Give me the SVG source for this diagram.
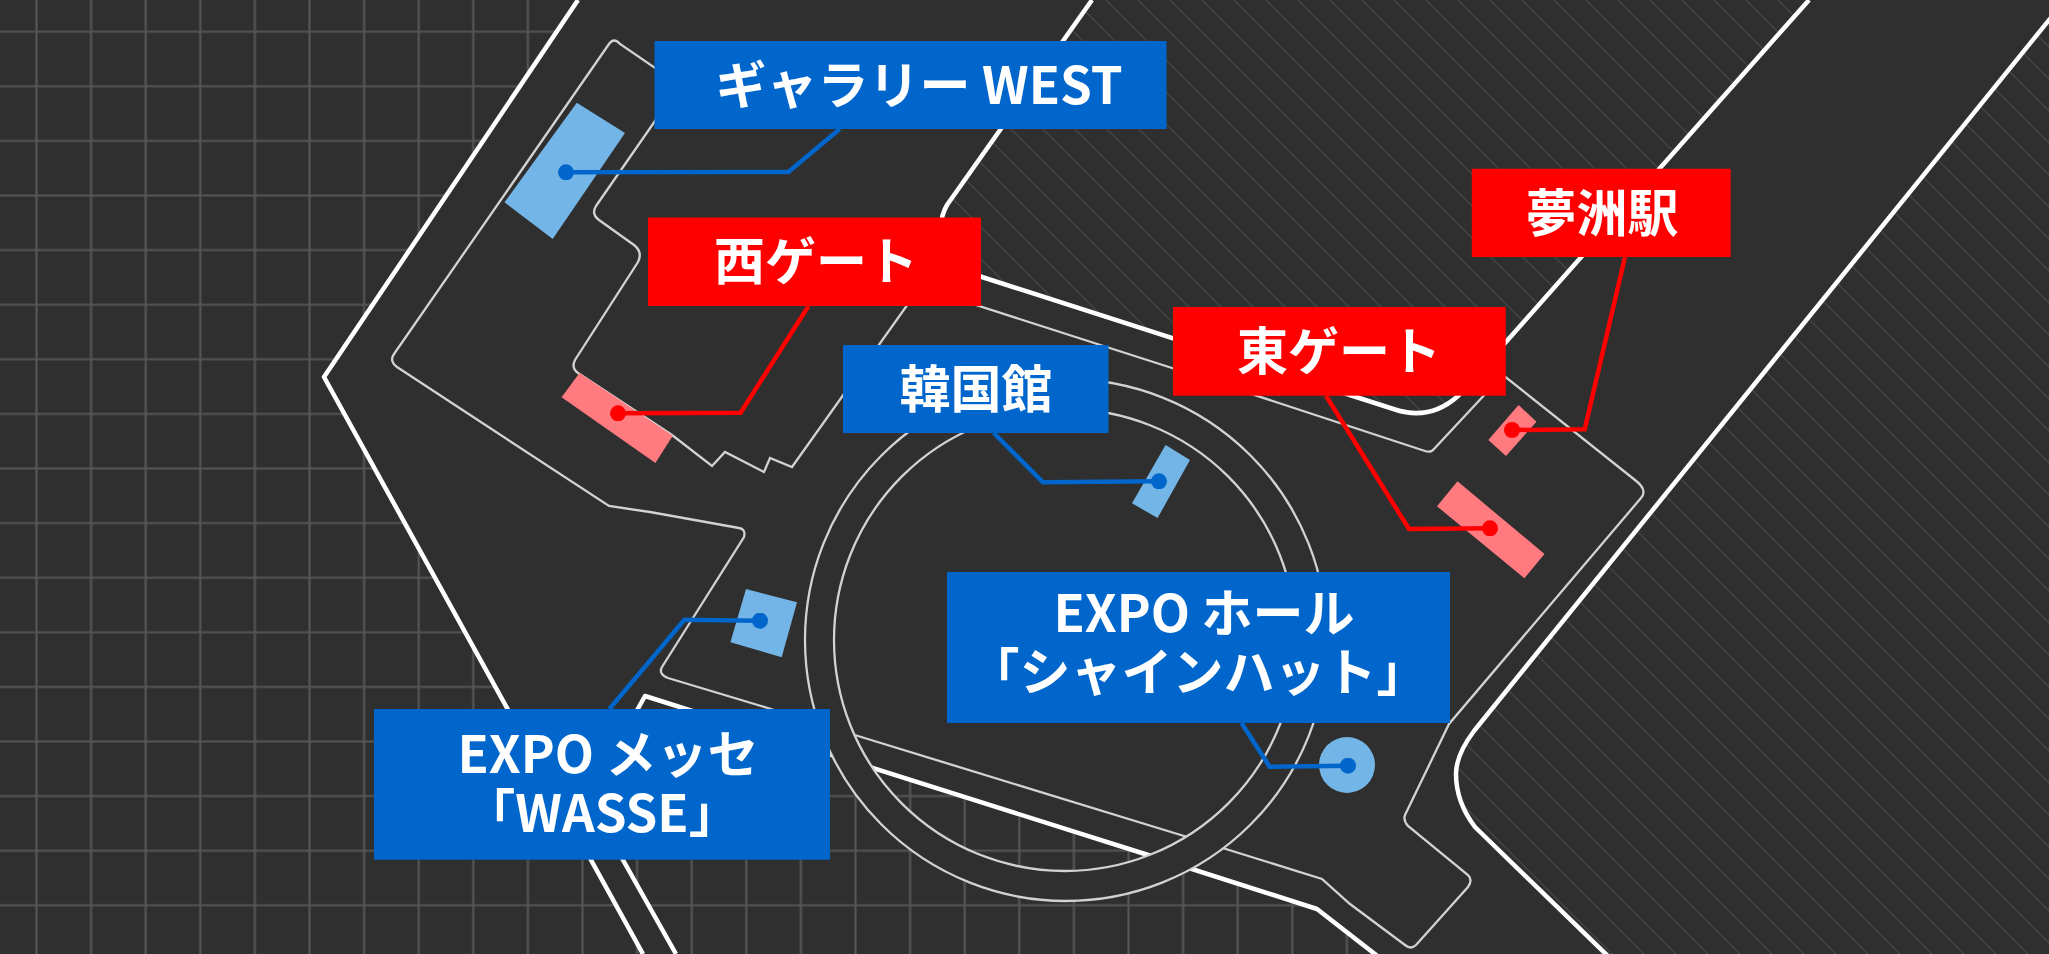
<svg xmlns="http://www.w3.org/2000/svg" width="2049" height="954" viewBox="0 0 2049 954">
<style>
.thick{fill:none;stroke:#fff;stroke-width:4.5;stroke-linejoin:round}
.thin{fill:none;stroke:#d2d2d2;stroke-width:2.3}
.lb{fill:#0066cc}.lr{fill:#ff0000}
.pb{fill:#74b5e8}.pr{fill:#ff7b80}
.t{font-family:"Noto Sans CJK JP","Noto Sans",sans-serif;font-weight:700;font-size:51px;fill:#fff;text-anchor:middle}
.cb{fill:none;stroke:#0066cc;stroke-width:4.5;marker-start:url(#db)}
.cr{fill:none;stroke:#ff0000;stroke-width:4.5;marker-start:url(#dr)}
</style>
<defs>
<pattern id="grid" patternUnits="userSpaceOnUse" x="9.2" y="4.4" width="54.6" height="54.6"><path d="M27.3,0V54.6M0,27.3H54.6" fill="none" stroke="#555" stroke-width="2.2"/></pattern>
<pattern id="hatch" patternUnits="userSpaceOnUse" x="18" y="0" width="32" height="32"><path d="M-2,-2L34,34" fill="none" stroke="#444" stroke-width="1.4"/></pattern>
<marker id="db" markerUnits="userSpaceOnUse" viewBox="-8 -8 16 16" markerWidth="16" markerHeight="16"><circle r="8" fill="#0066cc"/></marker>
<marker id="dr" markerUnits="userSpaceOnUse" viewBox="-8 -8 16 16" markerWidth="16" markerHeight="16"><circle r="8" fill="#ff0000"/></marker>
</defs>
<rect width="2049" height="954" fill="#2f2f2f"/>
<g id="map">
<path d="M0,0H578L324,377L643,954H0Z" fill="url(#grid)"/>
<path d="M676,954L623,860L590,795L645,696L1145,854L1317,909L1380,958H676Z" fill="url(#grid)"/>
<path d="M1092,0L947,205Q936,224 945,248Q955,268 982,277L1395,409.5Q1430,421 1458,396L1809,0Z" fill="url(#hatch)"/>
<path d="M2070,-6L1474,731Q1456,755 1456,774Q1456,802 1475,827L1612,960H2049V-6Z" fill="url(#hatch)"/>
<path class="thick" d="M578,0L324,377L643,954"/>
<path class="thick" d="M676,954L623,860L590,795L645,696L1145,854L1317,909L1380,958"/>
<path class="thick" d="M1092,0L947,205Q936,224 945,248Q955,268 982,277L1395,409.5Q1430,421 1458,396L1809,0"/>
<path class="thick" d="M2070,-6L1474,731Q1456,755 1456,774Q1456,802 1475,827L1612,960"/>
<path class="thin" d="M609,44Q614,37 620,44L680,85L596,206Q591,214 599,220L634,245Q643,252 638,262L575,360Q571,368 578,373L672,435L712,466L725,452L764,472L770,458L792,467L920,287L1172,368L1425,451Q1431,453 1434,449L1503,375L1635,480Q1648,490 1641,498L1449,724L1405,815Q1403,820 1408,826L1468,875Q1473,880 1468,887L1416,945Q1411,950 1405,945L1350,904L1322,879L1184,836L858,736L771,709L668,678Q658,674 662,667L744,537Q746,529 739,528L650,512L609,506L397,367Q389,361 394,354Z"/>
<circle cx="1065.500" cy="640" r="246" fill="none" stroke="#2f2f2f" stroke-width="30"/>
<circle class="thin" cx="1066" cy="640" r="261"/>
<circle class="thin" cx="1065" cy="640" r="231"/>
</g>
<g id="node-gallery-west">
<polygon class="pb" points="576.800,102.700 625,133 552.700,239 504.500,202.300"/>
<rect class="lb" x="654.500" y="41" width="512" height="88"/>
<text class="t" x="919" y="104">ギャラリー WEST</text>
</g>
<g id="node-west-gate">
<polygon class="pr" points="579.500,373 672.800,435.700 655.400,463 561.600,397.300"/>
<rect class="lr" x="648" y="217.500" width="333" height="88.500"/>
<text class="t" x="816" y="280">西ゲート</text>
</g>
<g id="node-korea">
<polygon class="pb" points="1165.600,445 1190,460 1157.600,518 1132,503.300"/>
<rect class="lb" x="843" y="345" width="265.500" height="88"/>
<text class="t" x="976" y="408">韓国館</text>
</g>
<g id="node-east-gate">
<polygon class="pr" points="1457.500,481.300 1544.500,554 1524.400,578.300 1437,506.300"/>
<rect class="lr" x="1173" y="307" width="332.700" height="88.700"/>
<text class="t" x="1339" y="370">東ゲート</text>
</g>
<g id="node-station">
<polygon class="pr" points="1518.600,405 1536.500,421.700 1506,456 1488.300,440"/>
<rect class="lr" x="1471.800" y="168.700" width="258.900" height="88.300"/>
<text class="t" x="1602" y="232">夢洲駅</text>
</g>
<g id="node-messe">
<polygon class="pb" points="746,589 797,602.300 781.700,657.300 730.400,642.300"/>
<rect class="lb" x="374" y="709" width="456" height="150.700"/>
<text class="t"><tspan x="608" y="773">EXPO メッセ</tspan><tspan x="602" y="832">「WASSE」</tspan></text>
</g>
<g id="node-hall">
<circle class="pb" cx="1347" cy="765" r="28"/>
<rect class="lb" x="947" y="572" width="503" height="151"/>
<text class="t"><tspan x="1204" y="632">EXPO ホール</tspan><tspan x="1198" y="691">「シャインハット」</tspan></text>
</g>
<g id="connectors">
<path class="cb" d="M566,172.300L788.400,172L839.700,129"/>
<path class="cr" d="M618,413.300L740.600,412.700L808.500,306"/>
<path class="cb" d="M1159,481.300L1043,482.300L993.750,433"/>
<path class="cr" d="M1490,528.300L1409,529L1326,395.700"/>
<path class="cr" d="M1512,430L1584.700,429.300L1625,257"/>
<path class="cb" d="M760,620.700L684.400,619.700L609.400,709"/>
<path class="cb" d="M1348,765.700L1269.600,766.700L1241.500,723"/>
</g>
</svg>
